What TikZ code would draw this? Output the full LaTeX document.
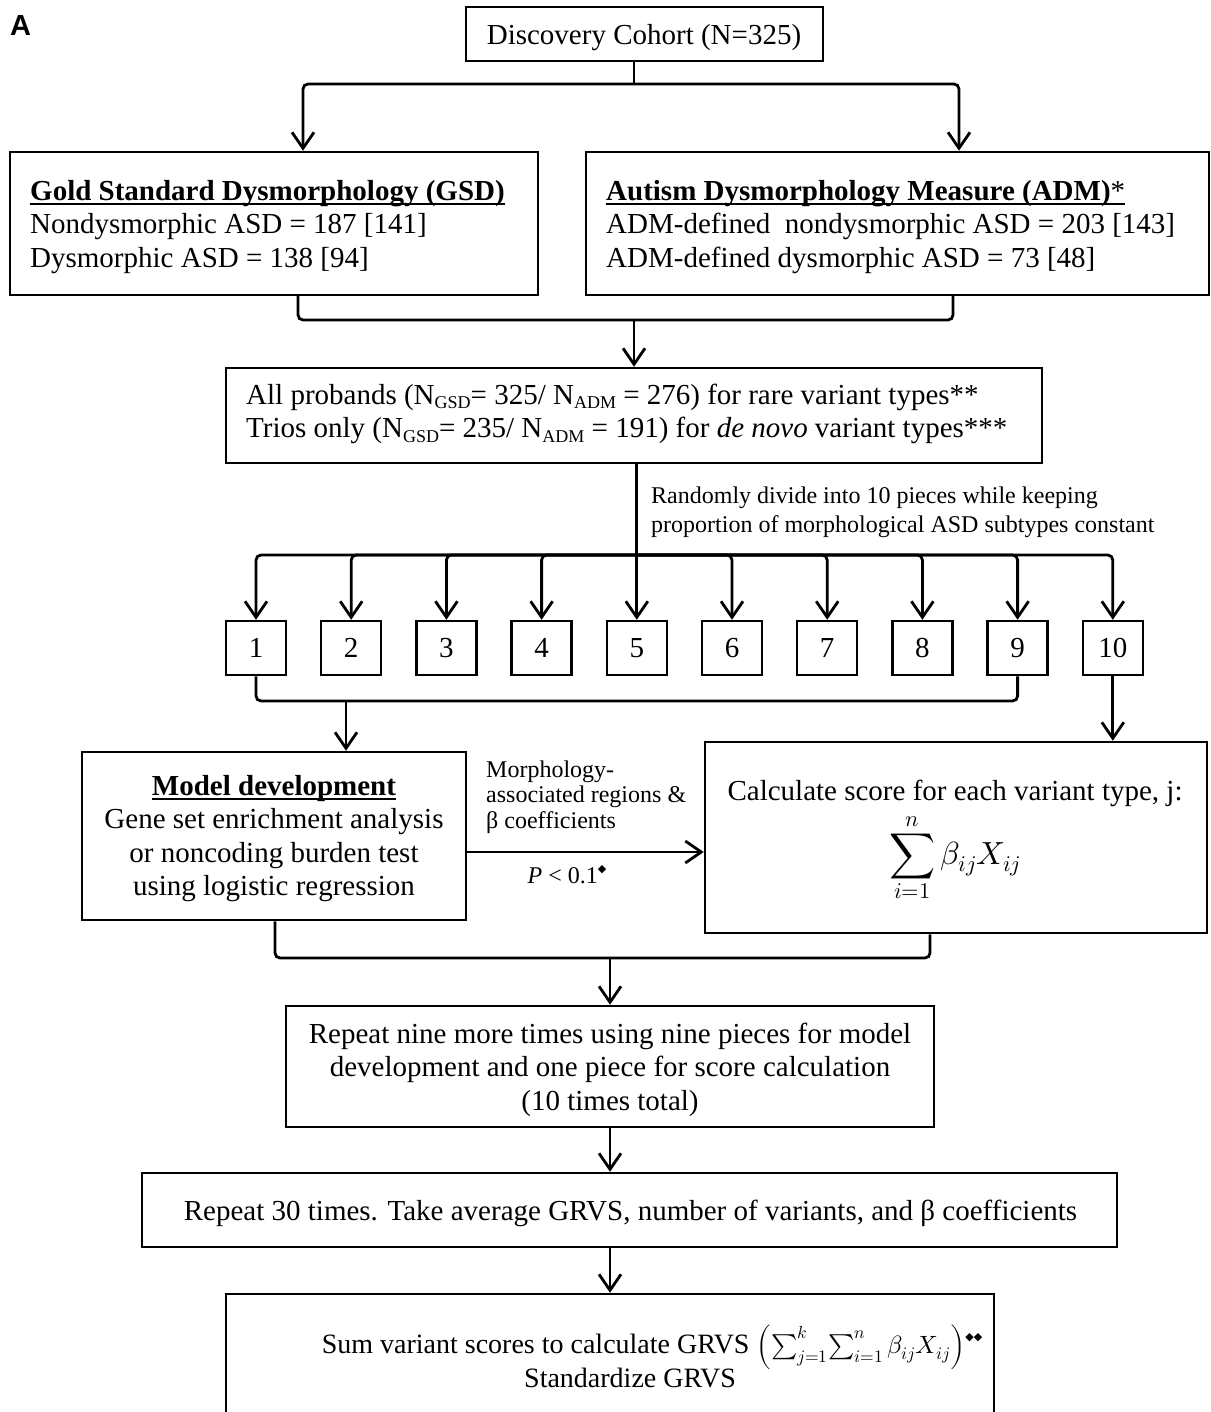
\documentclass[tikz,border=0pt]{standalone}
\usepackage{fontspec}
\usepackage{unicode-math}
\setmainfont{Liberation Serif}
\newfontfamily\headfont{Liberation Sans}
\newfontfamily\symfont{DejaVu Sans}
\usetikzlibrary{arrows.meta}
\newcommand\fsmain{\fontsize{29}{33.5}\selectfont}
\newcommand\fssmall{\fontsize{24}{29}\selectfont}
\newcommand\fslabel{\fontsize{24}{25.5}\selectfont}
\newcommand\stM{\rule{0pt}{24pt}}
\newcommand\stS{\rule{0pt}{20pt}}
\newcommand\dmd{\raisebox{0.45em}{\symfont\fontsize{11}{11}\selectfont ◆}}
\newcommand\myul[1]{\setbox0\hbox{#1}\rlap{\rule[-4.5pt]{\wd0}{2pt}}\box0}
\newcommand\sbs[1]{\raisebox{-0.15em}{\fontsize{18}{18}\selectfont #1}}
\begin{document}
\begin{tikzpicture}[x=1pt,y=-1pt,
  box/.style={draw, line width=2.5pt, inner sep=0pt, font=\fsmain},
  txt/.style={inner sep=0pt, font=\fsmain},
  conn/.style={line width=2.8pt, rounded corners=5pt},
  arr/.style={conn, -{Straight Barb[length=16pt,width=22pt]}},
]
\useasboundingbox (0,0) rectangle (1210,1412);
\clip (0,0) rectangle (1210,1412);

% panel label
\node[anchor=base west, inner sep=0pt, font=\headfont\bfseries\fontsize{29}{29}\selectfont] (lblA) at (10,35.5) {A};

% boxes
\node[box, minimum width=357pt, minimum height=54pt] (disc) at (644.5,34) {};
\node[box, minimum width=528pt, minimum height=143pt] (gsd) at (274,223.5) {};
\node[box, minimum width=623pt, minimum height=143pt] (adm) at (897.5,223.5) {};
\node[box, minimum width=816pt, minimum height=95pt] (allp) at (634,415.5) {};
\foreach \i in {1,...,10}
  \node[box, minimum width=60pt, minimum height=54pt] (p\i) at ({256+95.2*(\i-1)},648) {\i};
\node[box, minimum width=384pt, minimum height=168pt] (model) at (274,836) {};
\node[box, minimum width=502pt, minimum height=191pt] (score) at (956,837.5) {};
\node[box, minimum width=648pt, minimum height=121pt] (rep) at (610,1066.5) {};
\node[box, minimum width=975pt, minimum height=74pt] (rep30) at (629.5,1210) {};
\node[box, minimum width=768pt, minimum height=138pt] (final) at (610,1363) {};

% box texts
\node[txt, anchor=base] (discT) at (644,45) {Discovery Cohort (N=325)};
\node[txt, anchor=north west, align=left] (gsdT) at (30,176)
  {\stM\myul{\textbf{Gold Standard Dysmorphology (GSD)}}\\ Nondysmorphic ASD = 187 [141]\\ Dysmorphic ASD = 138 [94]};
\node[txt, anchor=north west, align=left] (admT) at (606,176)
  {\stM\myul{\textbf{Autism Dysmorphology Measure (ADM)}*}\\ ADM-defined~ nondysmorphic ASD = 203 [143]\\ ADM-defined dysmorphic ASD = 73 [48]};
\node[txt, anchor=north west, align=left] (allpT) at (246,380)
  {\stM All probands (N\sbs{GSD}= 325/ N\sbs{ADM} = 276) for rare variant types**\\
   Trios only (N\sbs{GSD}= 235/ N\sbs{ADM} = 191) for \textit{de novo} variant types***};
\node[txt, anchor=north, align=center] (modelT) at (274,771)
  {\stM\myul{\textbf{Model development}}\\ Gene set enrichment analysis\\ or noncoding burden test\\ using logistic regression};
\node[txt, anchor=base] (scoreT) at (955,800) {Calculate score for each variant type, j:};
\node[txt, anchor=center] (scoreF) at (955,858)
  {\fontsize{32}{32}\selectfont$\displaystyle\sum_{i=1}^{n}\beta_{ij}X_{ij}$};
\node[txt, anchor=north, align=center] (repT) at (610,1019)
  {\stM Repeat nine more times using nine pieces for model\\ development and one piece for score calculation\\ (10 times total)};
\node[txt, anchor=base] (rep30T) at (630.5,1220)
  {Repeat 30 times. Take average GRVS, number of variants, and β coefficients};
\node[txt, anchor=base, font=\fontsize{28}{33.5}\selectfont] (finT1) at (652,1353)
  {Sum variant scores to calculate GRVS {\fontsize{25}{25}\selectfont$\Bigl(\sum_{j=1}^{k}\!\sum_{i=1}^{n}\beta_{ij}X_{ij}\Bigr)$}\dmd\dmd};
\node[txt, anchor=base, font=\fontsize{28}{33.5}\selectfont] (finT2) at (630,1387) {Standardize GRVS};

% edge labels
\node[anchor=north west, align=left, font=\fssmall, inner sep=0pt] (lblsplit) at (651,483)
  {\stS Randomly divide into 10 pieces while keeping\\ proportion of morphological ASD subtypes constant};
\node[anchor=north west, align=left, font=\fslabel, inner sep=0pt] (lblmorph) at (486,757)
  {\stS Morphology-\\ associated regions \&\\ β coefficients};
\node[anchor=base, font=\fslabel, inner sep=0pt] (lblp) at (567,883) {\textit{P} < 0.1\dmd};

% helper coordinates
\coordinate (bus1) at (634,84);
\coordinate (xgin) at (303,0);
\coordinate (xain) at (959,0);
\coordinate (xgout) at (298,0);
\coordinate (xaout) at (953,0);
\coordinate (m1) at (634,320);
\coordinate (bus2) at ({256+95.2*4},555);
\coordinate (m3) at (346,701);
\coordinate (harr) at (0,852);
\coordinate (xmo) at (275,0);
\coordinate (xso) at (930,0);
\coordinate (m4) at (610,958);

% connectors
\draw[conn] (disc.south -| bus1) -- (bus1);
\draw[arr] (bus1) -| (gsd.north -| xgin);
\draw[arr] (bus1) -| (adm.north -| xain);
\draw[conn] (gsd.south -| xgout) |- (m1);
\draw[conn] (adm.south -| xaout) |- (m1);
\draw[arr] (m1) -- (allp.north);
\draw[conn] (allp.south -| bus2) -- (bus2);
\foreach \i in {1,2,3,4,6,7,8,9,10}
  \draw[arr] (bus2) -| (p\i.north);
\draw[arr] (bus2) -- (p5.north);
\draw[conn] (p1.south) |- (m3);
\draw[conn] (p9.south) |- (m3);
\draw[arr] (m3) -- (model.north -| m3);
\draw[arr] (p10.south) -- (score.north -| p10.south);
\draw[arr] (model.east |- harr) -- (score.west |- harr);
\draw[conn] (model.south -| xmo) |- (m4);
\draw[conn] (score.south -| xso) |- (m4);
\draw[arr] (m4) -- (rep.north);
\draw[arr] (rep.south) -- (rep30.north -| rep.south);
\draw[arr] (rep30.south -| final.north) -- (final.north);
\end{tikzpicture}
\end{document}
